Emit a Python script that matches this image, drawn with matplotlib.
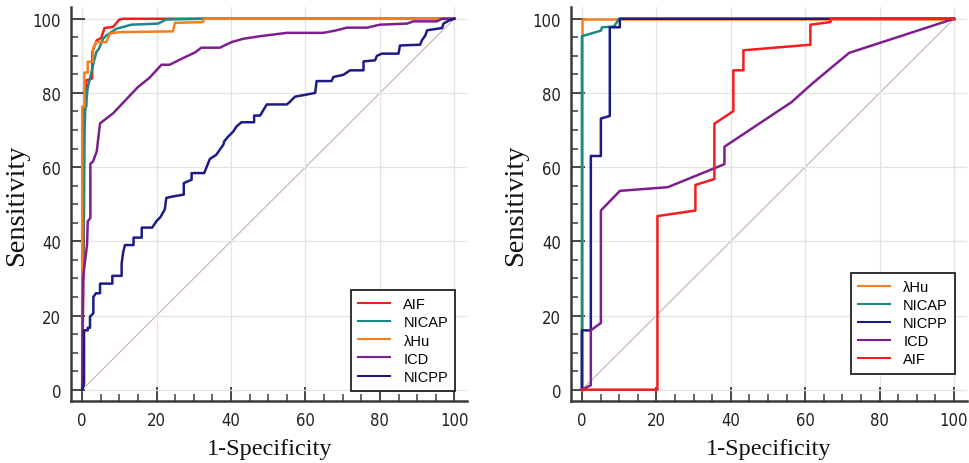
import matplotlib
matplotlib.use("Agg")
import matplotlib.pyplot as plt
from matplotlib.ticker import MultipleLocator
from matplotlib import font_manager

# ---------------- data ----------------
# Left panel
L_AIF_x = [0, 0.3, 0.5, 0.5, 1.1, 1.1, 2.7, 2.7, 3.9, 5.1, 6.0, 8.3, 10.0, 11.0, 100]
L_AIF_y = [0, 30, 50, 76.3, 76.3, 83.4, 83.9, 91.0, 94.2, 94.8, 97.5, 97.8, 99.8, 100, 100]

L_NICAP_x = [0, 0.2, 0.4, 0.6, 0.8, 1.5, 2.2, 2.9, 3.8, 4.5, 5.6, 6.5, 9.2, 13.2, 20.4, 22.6, 32.5, 100]
L_NICAP_y = [0, 25, 50, 68, 75, 81.6, 84.3, 87.5, 91.0, 91.9, 94.6, 95.5, 97.3, 98.4, 98.7, 99.8, 100, 100]

L_LHU_x = [0, 0, 0, 0.6, 0.6, 1.5, 1.5, 2.9, 2.9, 3.8, 6.5, 7.4, 10.0, 24.4, 24.9, 32.5, 32.7, 100]
L_LHU_y = [0, 30, 76.3, 76.3, 85.5, 85.5, 88.4, 88.4, 91.9, 93.7, 93.7, 96.0, 96.4, 96.6, 98.9, 99.1, 100, 100]

L_ICD_x = [0, 0.2, 1.3, 1.5, 2.2, 2.2, 2.9, 3.9, 4.8, 8.3, 11.4, 15.0, 18.1, 21.3, 23.5, 27.1, 30.3,
           32.0, 37.0, 40.1, 43.3, 47.8, 55.0, 64.8, 68.4, 71.1, 76.5, 80.0, 87.3, 89.0, 95.3, 96.7, 100]
L_ICD_y = [0, 30, 39, 45.4, 46.3, 60.9, 61.5, 64.2, 71.8, 74.5, 77.8, 81.6, 84.1, 87.6, 87.6, 89.4, 90.9,
           92.2, 92.2, 93.7, 94.6, 95.3, 96.2, 96.2, 96.9, 97.6, 97.6, 98.4, 98.7, 99.3, 99.3, 100, 100]

L_NICPP_x = [0, 0.5, 0.5, 1.5, 1.5, 2.1, 2.1, 3.0, 3.0, 3.7, 4.8, 4.8, 8.1, 8.1, 10.6, 10.6, 11.0, 11.5,
             13.8, 13.8, 16.0, 16.0, 18.8, 20.0, 21.0, 22.2, 22.6, 24.4, 27.3, 27.3, 29.4, 29.4, 32.8,
             33.3, 34.3, 36.0, 37.9, 38.2, 39.2, 40.6, 41.5, 42.8, 46.2, 46.2, 47.8, 49.6, 55.0, 55.8,
             57.2, 59.4, 62.6, 63.0, 67.0, 67.5, 70.2, 72.0, 75.6, 75.6, 78.7, 79.2, 80.5, 85.0, 85.4,
             90.8, 91.3, 92.2, 92.7, 96.7, 97.1, 98.5, 100]
L_NICPP_y = [0, 1.5, 16, 16, 16.7, 16.7, 19.7, 20.6, 25, 26, 26, 28.6, 28.6, 30.7, 30.7, 34, 37, 39,
             39, 41, 41, 43.7, 43.7, 45.5, 46.5, 48.6, 51.7, 52.1, 52.6, 55.7, 56.6, 58.4, 58.4,
             59.7, 62.2, 63.3, 66.0, 67.0, 68.2, 69.6, 71.0, 72.1, 72.1, 73.9, 73.9, 76.9, 76.9, 77.6,
             79.0, 79.4, 80.0, 83.2, 83.2, 84.3, 84.9, 86.1, 86.1, 88.5, 88.8, 90.0, 90.6, 90.6, 92.8,
             93.0, 94.2, 95.5, 96.9, 97.5, 98.7, 99.5, 100]

# Right panel
R_LHU_x = [0, 0, 0, 100]
R_LHU_y = [0, 95.5, 100, 100]

R_NICAP_x = [0, 0, 5.1, 5.4, 8.6, 10.0, 100]
R_NICAP_y = [0, 95.3, 96.8, 97.7, 97.9, 100, 100]

R_NICPP_x = [0, 0, 2.4, 2.4, 5.1, 5.1, 7.5, 7.5, 10.2, 10.2, 100]
R_NICPP_y = [0, 16, 16, 63, 63, 73.1, 73.8, 97.7, 97.7, 100, 100]

R_ICD_x = [0, 2.4, 2.4, 5.1, 5.1, 10.2, 23.1, 38.3, 38.3, 56.3, 62.1, 71.8, 100]
R_ICD_y = [0, 1.2, 16, 18, 48.3, 53.6, 54.6, 60.8, 65.5, 77.5, 82.7, 90.8, 100]

R_AIF_x = [0, 20.3, 20.3, 30.5, 30.5, 35.6, 35.6, 40.7, 40.7, 43.4, 43.4, 61.4, 61.4, 66.8, 66.8, 100]
R_AIF_y = [0, 0, 46.8, 48.3, 55.2, 56.8, 71.7, 75.1, 86.1, 86.1, 91.5, 93.0, 98.4, 99.1, 100, 100]

ticks = [0, 20, 40, 60, 80, 100]
xlabel = "1-Specificity"
ylabel = "Sensitivity"

# ---------------- style ----------------
C_RED = "#f51d1d"
C_TEAL = "#1b8a84"
C_ORANGE = "#f47f20"
C_PURPLE = "#7d1f8e"
C_NAVY = "#1c1c84"
C_DIAG = "#c9aeb0"

avail = {f.name for f in font_manager.fontManager.ttflist}
if "Liberation Sans Narrow" in avail:
    tick_fp = dict(fontfamily="Liberation Sans Narrow", fontstretch="normal")
else:
    tick_fp = dict(fontfamily="DejaVu Sans", fontstretch="condensed")

fig = plt.figure(figsize=(9.69, 4.64), dpi=100)
axL = fig.add_axes([0.0733, 0.134, 0.409, 0.849])
axR = fig.add_axes([0.589, 0.134, 0.409, 0.849])

def style(ax):
    ax.set_xlim(-3, 103.5)
    ax.set_ylim(-3, 103.2)
    ax.set_xticks(ticks)
    ax.set_yticks(ticks)
    ax.xaxis.set_minor_locator(MultipleLocator(5))
    ax.yaxis.set_minor_locator(MultipleLocator(5))
    ax.grid(True, which="major", color="#e3e3e3", lw=0.9, zorder=0)
    for s in ["top", "right"]:
        ax.spines[s].set_visible(False)
    for s in ["left", "bottom"]:
        ax.spines[s].set_color("#3a3a3a")
        ax.spines[s].set_linewidth(1.8)
    ax.tick_params(which="major", direction="in", length=10, width=1.3, color="#3a3a3a",
                   labelsize=12, pad=7)
    ax.tick_params(which="minor", direction="in", length=5, width=1.1, color="#3a3a3a")
    for lab in ax.get_xticklabels() + ax.get_yticklabels():
        lab.set_fontfamily(tick_fp["fontfamily"])
        lab.set_fontstretch(tick_fp["fontstretch"])
        lab.set_color("#222222")
    ax.set_xlabel(xlabel, fontfamily="Liberation Serif", fontsize=17.5, labelpad=7, color="#111111")
    ax.set_ylabel(ylabel, fontfamily="Liberation Serif", fontsize=20.5, labelpad=3, color="#111111")
    ax.plot([0, 100], [0, 100], color=C_DIAG, lw=0.8, zorder=1)

lw = 1.8
style(axL)
axL.plot(L_AIF_x, L_AIF_y, color=C_RED, lw=lw, label="AIF", zorder=3)
axL.plot(L_NICAP_x, L_NICAP_y, color=C_TEAL, lw=lw, label="NICAP", zorder=3)
axL.plot(L_LHU_x, L_LHU_y, color=C_ORANGE, lw=lw, label="λHu", zorder=3)
axL.plot(L_ICD_x, L_ICD_y, color=C_PURPLE, lw=lw, label="ICD", zorder=3)
axL.plot(L_NICPP_x, L_NICPP_y, color=C_NAVY, lw=lw, label="NICPP", zorder=3)

style(axR)
axR.plot(R_LHU_x, R_LHU_y, color=C_ORANGE, lw=lw, label="λHu", zorder=3)
axR.plot(R_NICAP_x, R_NICAP_y, color=C_TEAL, lw=lw, label="NICAP", zorder=3)
axR.plot(R_NICPP_x, R_NICPP_y, color=C_NAVY, lw=lw, label="NICPP", zorder=3)
axR.plot(R_ICD_x, R_ICD_y, color=C_PURPLE, lw=lw, label="ICD", zorder=3)
axR.plot(R_AIF_x, R_AIF_y, color=C_RED, lw=lw, label="AIF", zorder=3)

for ax, anchor in [(axL, (0.97, 0.025)), (axR, (0.97, 0.069))]:
    leg = ax.legend(loc="lower right", bbox_to_anchor=anchor, fancybox=False, framealpha=1,
                    edgecolor="#222222", prop={"family": "Liberation Sans", "size": 10.5},
                    handlelength=2.2, handletextpad=0.9, labelspacing=0.28,
                    borderpad=0.5, borderaxespad=0.0)
    leg.get_frame().set_linewidth(1.3)
    for h in leg.get_lines():
        h.set_linewidth(1.5)

fig.savefig("out.png", dpi=100)
